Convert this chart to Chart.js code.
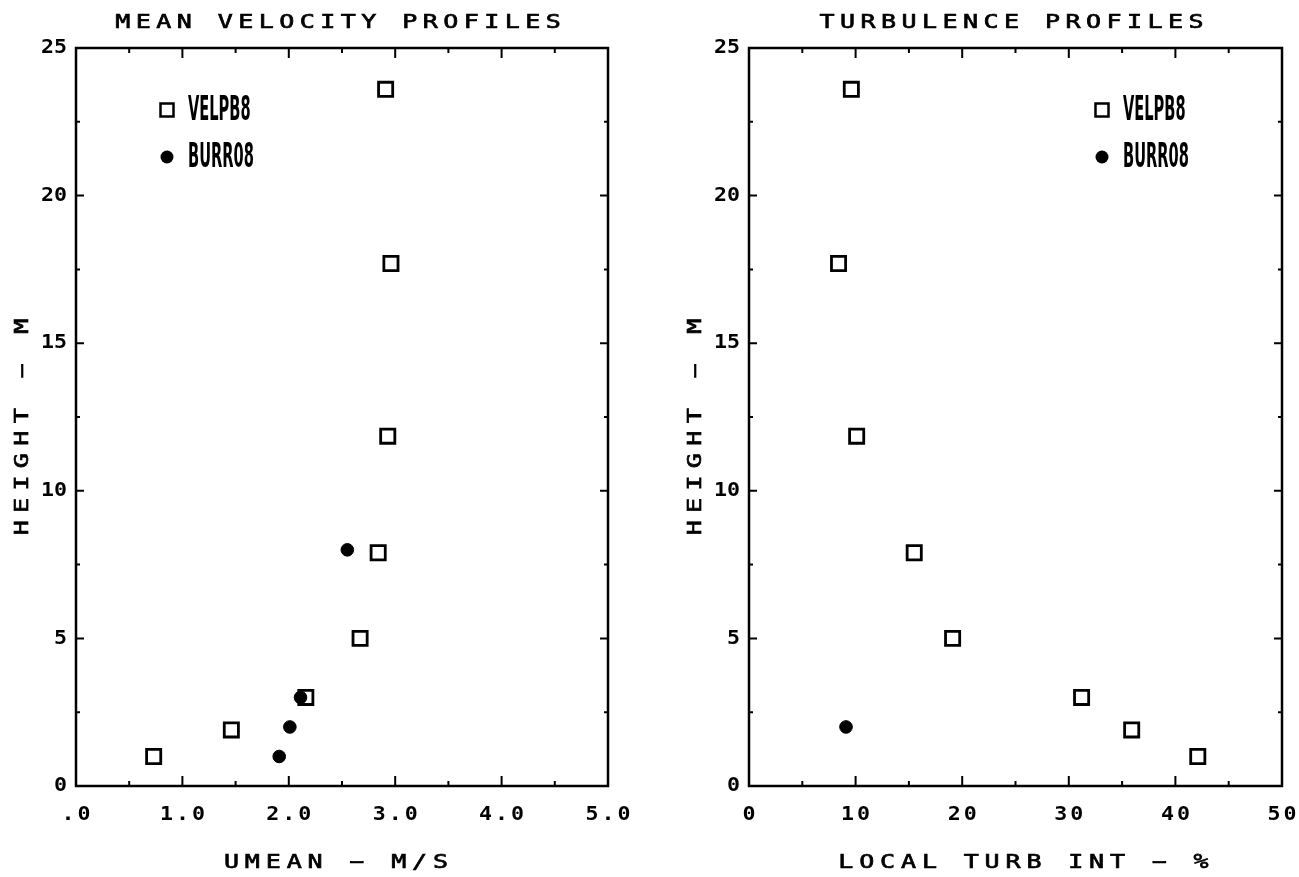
<!DOCTYPE html>
<html>
<head>
<meta charset="utf-8">
<script src="https://cdn.jsdelivr.net/npm/chart.js@4.4.1/dist/chart.umd.min.js"></script>
<style>
  html, body { margin: 0; padding: 0; background: #fff; }
  #velChart { position: absolute; left: 0; top: 0; }
  #turbChart { position: absolute; left: 649px; top: 0; }
</style>
</head>
<body>
<canvas id="velChart" width="649" height="877"></canvas>
<canvas id="turbChart" width="650" height="877"></canvas>
<script>
// axis ticks
const heightTicks = [0, 5, 10, 15, 20, 25];
const heightMinor = [2.5, 7.5, 12.5, 17.5, 22.5];
const umeanTicks = [0, 1, 2, 3, 4, 5];
const umeanLabels = ['.0', '1.0', '2.0', '3.0', '4.0', '5.0'];
const umeanMinor = [0.5, 1.5, 2.5, 3.5, 4.5];
const turbTicks = [0, 10, 20, 30, 40, 50];
const turbLabels = ['0', '10', '20', '30', '40', '50'];
const turbMinor = [5, 15, 25, 35, 45];

// VELPB8 (squares)
const velpHeight = [1.0, 1.9, 3.0, 5.0, 7.9, 11.85, 17.7, 23.6];
const velpUmean = [0.73, 1.46, 2.16, 2.67, 2.84, 2.93, 2.96, 2.91];
const velpTurb = [42.1, 35.9, 31.2, 19.1, 15.5, 10.1, 8.4, 9.6];

// BURR08 (filled circles)
const burrHeight = [1.0, 2.0, 3.0, 8.0];
const burrUmean = [1.91, 2.01, 2.11, 2.55];
const burrTurbHeight = [2.0];
const burrTurb = [9.1];

const MONO = '"DejaVu Sans Mono", monospace';

function pts(xs, ys) {
  return xs.map((x, i) => ({ x: x, y: ys[i] }));
}

// plotter style lettering: every char on a fixed pitch, a bit stretched
function spaced(ctx, text, cx, cy, pitch, sx, heavy) {
  const start = cx - (text.length - 1) * pitch / 2;
  for (let i = 0; i < text.length; i++) {
    ctx.save();
    ctx.translate(start + i * pitch, cy);
    // the plotter dash is long
    ctx.scale(text[i] === '-' ? sx * 1.9 : sx, 1);
    ctx.fillText(text[i], 0, 0);
    if (heavy) ctx.strokeText(text[i], 0, 0);
    ctx.restore();
  }
}

// box, inward ticks, labels and the little legend
const plotterFrame = {
  id: 'plotterFrame',
  afterDatasetsDraw(chart, args, opts) {
    const ctx = chart.ctx;
    const { left, right, top, bottom } = chart.chartArea;
    const xs = chart.scales.x, ys = chart.scales.y;
    ctx.save();
    ctx.strokeStyle = '#000';
    ctx.fillStyle = '#000';
    ctx.lineWidth = 2.5;
    ctx.strokeRect(left, top, right - left, bottom - top);

    ctx.lineWidth = 2;
    const xTick = (v, len) => {
      const px = xs.getPixelForValue(v);
      ctx.beginPath();
      ctx.moveTo(px, bottom); ctx.lineTo(px, bottom - len);
      ctx.moveTo(px, top); ctx.lineTo(px, top + len);
      ctx.stroke();
    };
    const yTick = (v, len) => {
      const py = ys.getPixelForValue(v);
      ctx.beginPath();
      ctx.moveTo(left, py); ctx.lineTo(left + len, py);
      ctx.moveTo(right, py); ctx.lineTo(right - len, py);
      ctx.stroke();
    };
    opts.xTicks.slice(1, -1).forEach(v => xTick(v, 10));
    opts.xMinor.forEach(v => xTick(v, 5));
    heightTicks.slice(1, -1).forEach(v => yTick(v, 8));
    heightMinor.forEach(v => yTick(v, 4));

    ctx.textBaseline = 'middle';
    ctx.textAlign = 'center';

    // tick labels
    ctx.font = 'bold 20px ' + MONO;
    opts.xTicks.forEach((v, i) => {
      spaced(ctx, opts.xLabels[i], xs.getPixelForValue(v), bottom + 29, 16, 1.08);
    });
    heightTicks.forEach(v => {
      const s = String(v);
      const cx = left - 15.5 - (s.length - 1) * 13 / 2;
      spaced(ctx, s, cx, ys.getPixelForValue(v), 13, 1.08);
    });

    // titles
    ctx.font = '20px ' + MONO;
    ctx.lineWidth = 0.7;
    const cx = (left + right) / 2;
    spaced(ctx, opts.title, cx - 4, top - 25, 20.5, 1.25, true);
    spaced(ctx, opts.xTitle, cx + opts.xTitleShift, bottom + 77, 20.9, 1.25, true);
    ctx.save();
    ctx.translate(left - 53, (top + bottom) / 2 + 10);
    ctx.rotate(-Math.PI / 2);
    spaced(ctx, 'HEIGHT - M', 0, 0, 22.4, 1.25, true);
    ctx.restore();

    // legend
    const lx = opts.legendX, ly = opts.legendY;
    ctx.lineWidth = 2.5;
    ctx.strokeRect(lx - 6.5, ly[0] - 6.5, 13, 13);
    ctx.beginPath();
    ctx.arc(lx, ly[1], 6.5, 0, Math.PI * 2);
    ctx.fill();
    ctx.font = 'bold 34px "DejaVu Sans", sans-serif';
    ctx.textAlign = 'left';
    ['VELPB8', 'BURR08'].forEach((name, i) => {
      ctx.save();
      ctx.translate(lx + 21, ly[i] + 1);
      ctx.scale(0.43, 1);
      ctx.fillText(name, 0, 0);
      ctx.restore();
    });
    ctx.restore();
  }
};

function makeChart(canvas, squares, circles, xMax, padding, frame) {
  return new Chart(canvas, {
    type: 'scatter',
    data: {
      datasets: [
        {
          label: 'BURR08',
          data: circles,
          pointStyle: 'circle',
          pointRadius: 6.3,
          backgroundColor: '#000',
          borderColor: '#000',
          borderWidth: 1,
          order: 0
        },
        {
          label: 'VELPB8',
          data: squares,
          pointStyle: 'rect',
          pointRadius: 10,
          backgroundColor: 'rgba(0,0,0,0)',
          borderColor: '#000',
          borderWidth: 2.8,
          order: 1
        }
      ]
    },
    options: {
      responsive: false,
      animation: false,
      layout: { padding: padding },
      plugins: {
        legend: { display: false },
        tooltip: { enabled: false },
        plotterFrame: frame
      },
      scales: {
        x: { type: 'linear', min: 0, max: xMax, display: false },
        y: { type: 'linear', min: 0, max: 25, display: false }
      }
    },
    plugins: [plotterFrame]
  });
}

makeChart(
  document.getElementById('velChart'),
  pts(velpUmean, velpHeight),
  pts(burrUmean, burrHeight),
  5,
  { left: 76, right: 41, top: 48, bottom: 91 },
  {
    title: 'MEAN VELOCITY PROFILES', xTitle: 'UMEAN - M/S', xTitleShift: -6,
    xTicks: umeanTicks, xLabels: umeanLabels, xMinor: umeanMinor,
    legendX: 167, legendY: [110, 157]
  }
);

makeChart(
  document.getElementById('turbChart'),
  pts(velpTurb, velpHeight),
  pts(burrTurb, burrTurbHeight),
  50,
  { left: 100, right: 17, top: 48, bottom: 91 },
  {
    title: 'TURBULENCE PROFILES', xTitle: 'LOCAL TURB INT - %', xTitleShift: 8,
    xTicks: turbTicks, xLabels: turbLabels, xMinor: turbMinor,
    legendX: 453, legendY: [110, 157]
  }
);
</script>
</body>
</html>
